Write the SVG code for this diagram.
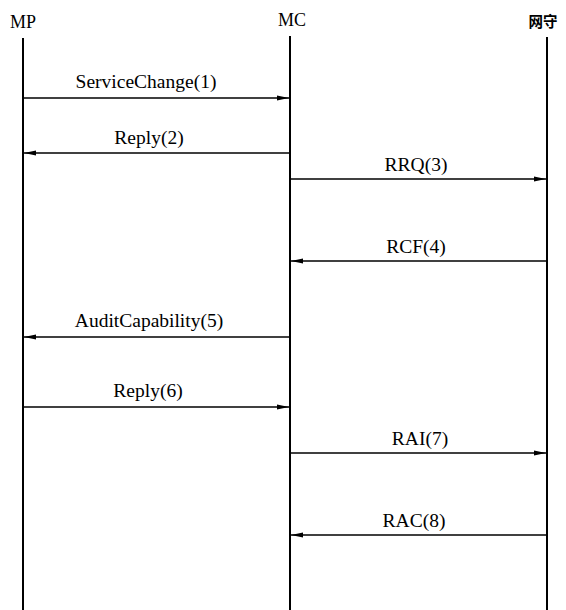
<svg xmlns="http://www.w3.org/2000/svg" width="566" height="610" viewBox="0 0 566 610">
<style>
.life{stroke:#000;stroke-width:2;fill:none}
.msg{stroke:#000;stroke-width:1.3;fill:none;marker-end:url(#ah)}
.lbl{font-family:"Liberation Serif","Times New Roman",serif;font-size:19.5px;fill:#000;text-anchor:middle}
.hd{font-family:"Liberation Serif","Times New Roman",serif;font-size:18px;fill:#000;text-anchor:middle}
.hdc{font-family:"Noto Sans CJK SC",sans-serif;font-size:14.5px;font-weight:bold;fill:#000;text-anchor:middle}
</style>
<defs>
<marker id="ah" viewBox="0 0 12 6" refX="12" refY="3" markerWidth="12" markerHeight="6" markerUnits="userSpaceOnUse" orient="auto">
<path d="M0,0.5 L12,3 L0,5.5 Z" fill="#000"/>
</marker>
</defs>
<g id="MP">
<text class="hd" x="23" y="28">MP</text>
<line class="life" x1="23" y1="38" x2="23" y2="610"/>
</g>
<g id="MC">
<text class="hd" x="292" y="26">MC</text>
<line class="life" x1="290" y1="36" x2="290" y2="610"/>
</g>
<g id="gatekeeper">
<text class="hdc" x="543" y="27">网守</text>
<line class="life" x1="547" y1="37" x2="547" y2="610"/>
</g>
<g id="connectors">
<line class="msg" x1="23" y1="98" x2="289" y2="98"/>
<text class="lbl" x="146" y="88">ServiceChange(1)</text>
<line class="msg" x1="290" y1="153" x2="24" y2="153"/>
<text class="lbl" x="149" y="144">Reply(2)</text>
<line class="msg" x1="290" y1="179" x2="546" y2="179"/>
<text class="lbl" x="416" y="171">RRQ(3)</text>
<line class="msg" x1="547" y1="261" x2="291" y2="261"/>
<text class="lbl" x="416" y="253">RCF(4)</text>
<line class="msg" x1="290" y1="337" x2="24" y2="337"/>
<text class="lbl" x="149" y="327">AuditCapability(5)</text>
<line class="msg" x1="23" y1="407" x2="289" y2="407"/>
<text class="lbl" x="148" y="397">Reply(6)</text>
<line class="msg" x1="290" y1="453" x2="546" y2="453"/>
<text class="lbl" x="420" y="445">RAI(7)</text>
<line class="msg" x1="547" y1="535" x2="291" y2="535"/>
<text class="lbl" x="414" y="527">RAC(8)</text>
</g>
</svg>
